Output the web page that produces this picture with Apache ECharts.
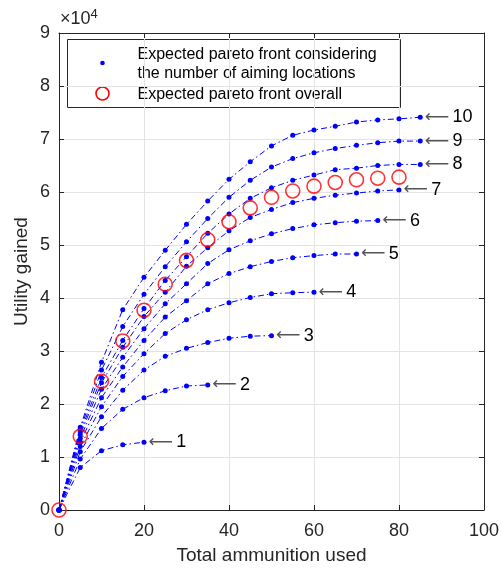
<!DOCTYPE html>
<html>
<head>
<meta charset="utf-8">
<script src="https://cdn.jsdelivr.net/npm/echarts@6/dist/echarts.min.js"></script>
<style>
  html, body { margin: 0; padding: 0; background: #fff; }
  #chart { width: 502px; height: 570px; }
</style>
</head>
<body>
<div id="chart"></div>
<script>
// total ammunition used (x), utility gained in units of 1e4 (y)
var ammo = [0, 5, 10, 15, 20, 25, 30, 35, 40, 45, 50, 55, 60, 65, 70, 75, 80, 85];

// expected pareto front for 1..10 aiming locations
var curve1 = [0, 0.80, 1.12, 1.23, 1.28];
var curve2 = [0, 0.96, 1.54, 1.90, 2.12, 2.25, 2.34, 2.36];
var curve3 = [0, 1.10, 1.76, 2.26, 2.64, 2.90, 3.05, 3.16, 3.24, 3.28, 3.29];
var curve4 = [0, 1.20, 1.95, 2.52, 2.95, 3.33, 3.59, 3.78, 3.91, 4.01, 4.08, 4.10, 4.11];
var curve5 = [0, 1.28, 2.12, 2.70, 3.20, 3.64, 3.95, 4.27, 4.46, 4.59, 4.69, 4.76, 4.80, 4.83, 4.83];
var curve6 = [0, 1.35, 2.28, 2.88, 3.42, 3.89, 4.27, 4.65, 4.91, 5.08, 5.21, 5.31, 5.38, 5.42, 5.45, 5.46];
var curve7 = [0, 1.42, 2.40, 3.07, 3.65, 4.11, 4.60, 4.95, 5.27, 5.52, 5.67, 5.80, 5.88, 5.94, 5.98, 6.02, 6.04];
var curve8 = [0, 1.47, 2.50, 3.20, 3.80, 4.33, 4.78, 5.22, 5.585, 5.88, 6.08, 6.22, 6.32, 6.42, 6.45, 6.50, 6.52, 6.52];
var curve9 = [0, 1.52, 2.64, 3.46, 4.07, 4.59, 5.06, 5.50, 5.90, 6.22, 6.47, 6.63, 6.74, 6.82, 6.88, 6.93, 6.96, 6.96];
var curve10 = [0, 1.56, 2.79, 3.78, 4.39, 4.90, 5.39, 5.83, 6.24, 6.57, 6.87, 7.07, 7.17, 7.24, 7.32, 7.36, 7.38, 7.41];
var curves = [curve1, curve2, curve3, curve4, curve5, curve6, curve7, curve8, curve9, curve10];
var curveLabels = ['1', '2', '3', '4', '5', '6', '7', '8', '9', '10'];

// expected pareto front overall
var paretoAmmo = [0, 5, 10, 15, 20, 25, 30, 35, 40, 45, 50, 55, 60, 65, 70, 75, 80];
var paretoUtility = [0, 1.39, 2.43, 3.19, 3.77, 4.26, 4.71, 5.10, 5.44, 5.70, 5.90, 6.02, 6.11, 6.18, 6.23, 6.26, 6.28];

var FONT = '"Liberation Sans", Arial, Helvetica, sans-serif';
var AXIS_COLOR = '#262626';
var BLUE = '#0000ff';
var RED = '#ff0000';

var chart = echarts.init(document.getElementById('chart'));

var series = curves.map(function (ys, k) {
  return {
    type: 'line',
    name: 'aiming ' + curveLabels[k],
    symbol: 'circle',
    symbolSize: 5,
    showAllSymbol: true,
    itemStyle: { color: BLUE },
    lineStyle: { color: BLUE, width: 1, type: [6, 3, 1.5, 3] },
    z: 2,
    data: ys.map(function (y, i) {
      var item = { value: [ammo[i], y] };
      if (i === ys.length - 1) {
        item.label = {
          show: true,
          position: 'right',
          distance: 2,
          formatter: '{a|\u27f5} {n|' + curveLabels[k] + '}',
          rich: {
            a: { fontFamily: '"DejaVu Sans", sans-serif', fontSize: 17, color: '#555' },
            n: { fontFamily: FONT, fontSize: 18, color: '#000' }
          }
        };
      }
      return item;
    })
  };
});

series.push({
  type: 'scatter',
  name: 'pareto overall',
  symbol: 'circle',
  symbolSize: 14,
  itemStyle: { color: 'rgba(0,0,0,0)', borderColor: RED, borderWidth: 1.6 },
  z: 3,
  data: paretoUtility.map(function (y, i) { return [paretoAmmo[i], y]; })
});

var axisText = { fontFamily: FONT, fontSize: 18, color: AXIS_COLOR };

chart.setOption({
  animation: false,
  backgroundColor: '#fff',
  grid: { left: 59, right: 15, top: 33, bottom: 56 },
  xAxis: [{
    type: 'value', min: 0, max: 100, interval: 20, position: 'bottom',
    axisLine: { onZero: false, lineStyle: { color: AXIS_COLOR, width: 1 } },
    axisTick: { inside: true, length: 5, lineStyle: { color: AXIS_COLOR } },
    axisLabel: Object.assign({ margin: 12 }, axisText),
    splitLine: { show: true, lineStyle: { color: '#e3e3e3', width: 1 } },
    name: 'Total ammunition used', nameLocation: 'middle', nameGap: 36,
    nameMoveOverlap: false,
    nameTextStyle: { fontFamily: FONT, fontSize: 19, color: AXIS_COLOR }
  }, {
    type: 'value', min: 0, max: 100, interval: 20, position: 'top',
    axisLine: { onZero: false, lineStyle: { color: AXIS_COLOR, width: 1 } },
    axisTick: { inside: true, length: 5, lineStyle: { color: AXIS_COLOR } },
    axisLabel: { show: false }, splitLine: { show: false }
  }],
  yAxis: [{
    type: 'value', min: 0, max: 9, interval: 1, position: 'left',
    axisLine: { show: true, onZero: false, lineStyle: { color: AXIS_COLOR, width: 1 } },
    axisTick: { show: true, inside: true, length: 5, lineStyle: { color: AXIS_COLOR } },
    axisLabel: Object.assign({ margin: 9 }, axisText),
    splitLine: { show: true, lineStyle: { color: '#e3e3e3', width: 1 } },
    name: 'Utility gained', nameLocation: 'middle', nameGap: 28,
    nameMoveOverlap: false,
    nameTextStyle: { fontFamily: FONT, fontSize: 19, color: AXIS_COLOR }
  }, {
    type: 'value', min: 0, max: 9, interval: 1, position: 'right',
    axisLine: { show: true, onZero: false, lineStyle: { color: AXIS_COLOR, width: 1 } },
    axisTick: { show: true, inside: true, length: 5, lineStyle: { color: AXIS_COLOR } },
    axisLabel: { show: false }, splitLine: { show: false }
  }],
  series: series,
  graphic: [
    // exponent above the y axis
    {
      type: 'text', left: 60, top: 8, z: 10,
      style: {
        text: '\u00d710{s|4}',
        font: '18px ' + FONT, fill: AXIS_COLOR,
        rich: { s: { fontSize: 13, fontFamily: FONT, fill: AXIS_COLOR, verticalAlign: 'top', padding: [0, 0, 10, 0] } }
      }
    },
    // legend box
    {
      type: 'group', left: 67, top: 39, z: 10,
      children: [
        { type: 'rect', shape: { x: 0, y: 0, width: 333, height: 68 },
          style: { fill: '#fff', stroke: AXIS_COLOR, lineWidth: 1 } },
        { type: 'circle', shape: { cx: 35, cy: 23.5, r: 2.3 }, style: { fill: BLUE } },
        { type: 'circle', shape: { cx: 35, cy: 54, r: 6.5 }, style: { fill: 'none', stroke: RED, lineWidth: 1.6 } },
        { type: 'text', x: 70, y: 15, style: { text: 'Expected pareto front considering', font: '16px ' + FONT, fill: '#000', verticalAlign: 'middle' } },
        { type: 'text', x: 70, y: 34, style: { text: 'the number of aiming locations', font: '16px ' + FONT, fill: '#000', verticalAlign: 'middle' } },
        { type: 'text', x: 70, y: 55, style: { text: 'Expected pareto front overall', font: '16px ' + FONT, fill: '#000', verticalAlign: 'middle' } }
      ]
    }
  ]
});
</script>
</body>
</html>
